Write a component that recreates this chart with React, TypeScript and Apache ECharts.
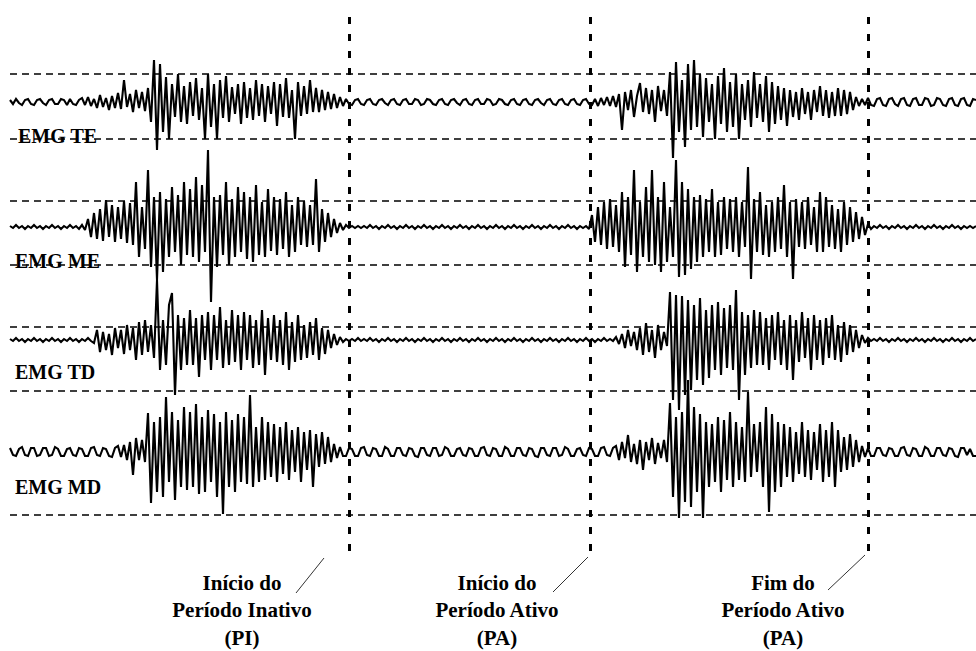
import React, { useEffect, useRef } from "react";
import * as echarts from "echarts";

// Channels
const channelNames = ["EMG TE", "EMG ME", "EMG TD", "EMG MD"];
// Resting level of each trace (chart units, y grows downward)
const channelBaselines = [102, 227, 340, 452];
// Dashed reference levels
const guideLevels = [74, 139, 201, 265, 327, 391, 515];
// Event markers (sample index)
const eventSamples = [113, 193.3, 286];
const eventLabels = [
  ["Início do", "Período Inativo", "(PI)"],
  ["Início do", "Período Ativo", "(PA)"],
  ["Fim do", "Período Ativo", "(PA)"],
];

// EMG amplitudes (one sample every 3 px), positive = upward deflection
const emgTE = [
  2, -2, 3, -1, -3, 2, 3, -2, -3, 2,
  3, -1, -3, 2, 3, -2, -2, 3, 2, -3,
  3, -2, -3, 2, 4, -3, 5, -4, 3, -6,
  7, -5, 4, -8, 6, -6, 9, -7, 22, -5,
  8, -10, 12, -6, 10, -9, 14, -20, 42, -48,
  38, -30, 25, -37, 18, -15, 28, -20, 16, -22,
  20, -14, 24, -18, 14, -37, 28, -25, 18, -37,
  22, -16, 26, -20, 15, -12, 18, -22, 20, -16,
  14, -18, 22, -14, 18, -20, 16, -12, 20, -24,
  18, -15, 24, -16, 12, -37, 20, -14, 16, -12,
  22, -10, 14, -10, 12, -8, 10, -7, 8, -6,
  5, -4, 3, -2, -3, 2, 3, -2, -3, 2,
  3, -2, -3, 2, 3, -1, -3, 2, 3, -2,
  -3, 2, 3, -2, -2, 3, 2, -3, -2, 3,
  2, -2, -3, 2, 3, -2, -3, 2, 3, -1,
  -3, 2, 3, -2, -3, 2, 3, -2, -2, 3,
  2, -3, -2, 3, 2, -2, -3, 2, 3, -2,
  -3, 2, 3, -2, -3, 2, 3, -1, -3, 2,
  3, -2, -3, 2, 3, -2, -3, 2, 3, -2,
  -3, 2, 3, -2, -3, 3, -4, 4, -3, 5,
  -4, 6, -5, 8, -28, 10, -8, 12, -15, 6,
  19, -10, 14, -12, 12, -20, 16, -9, 12, -14,
  30, -56, 40, -30, 22, -45, 38, -28, 42, -25,
  28, -35, 24, -20, 18, -37, 26, -22, 34, -30,
  20, -25, 28, -37, 18, -18, 22, -25, 30, -16,
  18, -20, 26, -30, 20, -22, 16, -18, 14, -24,
  12, -15, 10, -18, 14, -12, 10, -18, 12, -10,
  16, -14, 12, -16, 10, -14, 14, -14, 12, -12,
  10, -8, 5, -4, 3, -3, 4, -3, -4, 3,
  4, -3, -4, 3, 4, -2, -4, 3, 4, -3,
  -4, 3, 4, -3, -3, 4, 3, -4, -3, 4,
  3, -3, -4, 3, 4, -3, -4, 3, 4, -3,
  -4, 3, 2,
];

const emgME = [
  1, -1, 2, -1, 1, -2, 1, -1, 2, -1,
  1, -2, 1, -1, 2, -1, 1, -2, 1, -1,
  2, -1, 1, -2, 2, -3, 8, -10, 14, -12,
  18, -14, 27, -10, 22, -15, 20, -12, 26, -16,
  24, -18, 45, -30, 20, -22, 57, -40, 30, -53,
  35, -45, 28, -30, 40, -25, 32, -38, 45, -28,
  38, -30, 50, -35, 42, -25, 77, -75, 30, -40,
  32, -28, 45, -38, 28, -30, 40, -25, 35, -32,
  30, -35, 42, -28, 25, -30, 38, -24, 30, -28,
  28, -22, 35, -30, 22, -25, 30, -18, 26, -20,
  22, -18, 48, -25, 18, -15, 14, -10, 8, -6,
  4, -3, 2, -1, 1, -1, 1, -1, 1, -1,
  2, -1, 1, -2, 1, -1, 2, -1, 1, -2,
  1, -1, 2, -1, 1, -2, 1, -1, 2, -1,
  1, -2, 1, -1, 2, -1, 1, -2, 1, -1,
  2, -1, 1, -2, 1, -1, 2, -1, 1, -2,
  1, -1, 2, -1, 1, -2, 1, -1, 2, -1,
  1, -2, 1, -1, 2, -1, 1, -2, 1, -1,
  2, -1, 1, -2, 1, -1, 2, -1, 1, -2,
  1, -1, 1, -2, 12, -15, 20, -18, 25, -22,
  28, -20, 22, -25, 35, -40, 30, -28, 57, -45,
  25, -30, 40, -35, 57, -38, 30, -45, 45, -35,
  20, -30, 67, -50, 45, -48, 38, -42, 30, -35,
  32, -30, 28, -25, 38, -30, 25, -28, 30, -22,
  28, -25, 30, -30, 25, -20, 60, -52, 28, -25,
  35, -28, 22, -30, 25, -25, 30, -22, 42, -30,
  25, -52, 28, -20, 25, -22, 30, -18, 20, -25,
  35, -25, 30, -20, 22, -22, 18, -25, 25, -18,
  20, -15, 15, -12, 10, -8, 3, -2, 1, -1,
  2, -1, 1, -2, 1, -1, 2, -1, 1, -2,
  1, -1, 2, -1, 1, -2, 1, -1, 2, -1,
  1, -2, 1, -1, 2, -1, 1, -2, 1, -1,
  1, -1, 1,
];

const emgTD = [
  1, -1, 2, -1, 1, -2, 1, -1, 2, -1,
  1, -2, 1, -1, 2, -1, 1, -2, 1, -1,
  2, -1, 1, -2, 1, -1, 2, -1, -3, 10,
  -12, 8, -10, 6, -15, 12, -8, 10, -14, 15,
  -10, 12, -20, 18, -15, 20, -12, 15, -18, 60,
  -30, 20, -25, 35, 47, -55, 25, -30, 22, -25,
  30, -25, 22, -37, 25, -20, 28, -30, 25, -20,
  33, -28, 20, -25, 30, -22, 25, -30, 28, -20,
  25, -28, 20, -25, 30, -35, 22, -20, 25, -22,
  20, -25, 28, -30, 18, -22, 25, -20, 15, -18,
  18, -15, 22, -20, 12, -14, 10, -8, 6, -5,
  3, -2, 1, -1, 1, -1, 2, -1, 1, -1,
  2, -1, 1, -2, 1, -1, 2, -1, 1, -2,
  1, -1, 2, -1, 1, -2, 1, -1, 2, -1,
  1, -2, 1, -1, 2, -1, 1, -2, 1, -1,
  2, -1, 1, -2, 1, -1, 2, -1, 1, -2,
  1, -1, 2, -1, 1, -2, 1, -1, 2, -1,
  1, -2, 1, -1, 2, -1, 1, -2, 1, -1,
  2, -1, 1, -2, 1, -1, 2, -1, 1, -2,
  1, -1, 2, -1, 1, -2, 1, -1, 2, -1,
  1, -1, 3, -4, 6, -8, 10, -6, 8, -10,
  12, -15, 17, -12, 10, -18, 15, -10, 8, -6,
  48, -60, 45, -70, 44, -55, 40, -50, 35, -40,
  42, -45, 30, -38, 35, -30, 38, -35, 32, -28,
  35, -30, 50, -60, 28, -35, 25, -28, 30, -25,
  28, -25, 22, -30, 25, -20, 28, -25, 20, -30,
  25, -40, 20, -22, 28, -18, 22, -30, 25, -20,
  20, -25, 22, -18, 25, -20, 15, -22, 18, -15,
  15, -12, 10, -8, 5, -3, 2, -1, 1, -1,
  2, -1, 1, -2, 1, -1, 2, -1, 1, -2,
  1, -1, 2, -1, 1, -2, 1, -1, 2, -1,
  1, -2, 1, -1, 2, -1, 1, -2, 1, -1,
  2, -1, 1,
];

const emgMD = [
  4, -3, -4, 3, 5, -3, -4, 4, 4, -4,
  -3, 4, 4, -4, -3, 5, 3, -4, -4, 3,
  4, -3, -4, 4, 3, -4, -4, 4, 5, -3,
  -4, 4, 3, -4, -5, 4, 6, -5, 7, -8,
  10, -23, 14, -8, 12, -10, 39, -51, 30, -40,
  35, -45, 55, -30, 40, -48, 32, -35, 45, -38,
  40, -35, 48, -42, 35, -40, 42, -30, 38, -45,
  30, -62, 40, -35, 32, -40, 38, -30, 35, -32,
  57, -35, 25, -30, 35, -28, 30, -25, 28, -30,
  25, -22, 30, -28, 22, -20, 25, -30, 20, -18,
  22, -35, 18, -15, 20, -12, 15, -10, 8, -6,
  5, -4, -4, 4, 3, -4, -4, 4, 5, -3,
  -4, 4, 3, -4, -4, 5, 3, -4, -4, 4,
  4, -3, -4, 4, 3, -4, -5, 4, 4, -3,
  -4, 4, 4, -4, -3, 5, 3, -4, -4, 3,
  4, -3, -4, 4, 3, -4, -4, 4, 5, -3,
  -4, 4, 3, -4, -4, 5, 3, -4, -4, 4,
  4, -3, -4, 4, 3, -4, -5, 4, 4, -3,
  -4, 4, 4, -4, -3, 5, 3, -4, -4, 3,
  4, -3, -4, 4, 3, -4, -4, 4, 5, -3,
  -4, 4, 6, -8, 10, -6, 17, -10, 8, -12,
  12, -18, 10, -8, 14, -12, 9, -6, 12, -10,
  49, -45, 35, -66, 40, -50, 72, -55, 45, -40,
  38, -66, 30, -35, 28, -30, 35, -40, 32, -28,
  40, -35, 30, -28, 25, -30, 60, -25, 28, -20,
  30, -35, 45, -60, 38, -40, 30, -35, 28, -25,
  25, -30, 20, -22, 30, -25, 22, -28, 20, -18,
  28, -30, 22, -25, 30, -35, 22, -20, 15, -18,
  18, -15, 12, -10, 6, -5, 4, -4, -4, 4,
  4, -3, -4, 4, 3, -4, -4, 4, 5, -3,
  -4, 4, 3, -4, -4, 5, 3, -4, -4, 4,
  4, -3, -4, 4, 3, -4, -5, 4, 4, -3,
  3, -4, -4,
];

const channelSignals = [emgTE, emgME, emgTD, emgMD];

const W = 976;
const H = 651;
const FONT = '"Liberation Serif", "Times New Roman", serif';

export default function App() {
  const ref = useRef<HTMLDivElement>(null);

  useEffect(() => {
    if (!ref.current) return;
    const chart = echarts.init(ref.current, undefined, { renderer: "svg" });
    const nSamples = emgTE.length - 1;

    const series: any[] = channelSignals.map((sig, c) => ({
      type: "line",
      name: channelNames[c],
      showSymbol: false,
      symbol: "none",
      silent: true,
      z: 3,
      lineStyle: { color: "#000", width: 2.1, join: "miter", miterLimit: 2 },
      data: sig.map((v, i) => [i, channelBaselines[c] - v]),
    }));

    series.push({
      type: "line",
      name: "guides",
      data: [],
      silent: true,
      markLine: {
        silent: true,
        symbol: ["none", "none"],
        label: { show: false },
        lineStyle: { color: "#000", type: [7, 5], width: 1.6 },
        data: guideLevels.map((v) => ({ yAxis: v })),
      },
    });
    series.push({
      type: "line",
      name: "events",
      data: [],
      silent: true,
      z: 4,
      markLine: {
        silent: true,
        symbol: ["none", "none"],
        label: { show: false },
        lineStyle: { color: "#000", type: [7, 10], width: 3 },
        data: eventSamples.map((s) => [
          { coord: [s, 17] },
          { coord: [s, 557] },
        ]),
      },
    });

    const graphics: any[] = [];
    const labelY = [136, 261, 372, 487];
    channelNames.forEach((n, c) => {
      graphics.push({
        type: "text",
        x: c === 0 ? 18 : 15,
        y: labelY[c],
        z: 10,
        style: {
          text: n,
          font: `bold 20px ${FONT}`,
          fill: "#000",
          textAlign: "left",
          textVerticalAlign: "middle",
        },
      });
    });

    const labelCenters = [242, 497, 783];
    const lineYs = [583, 610, 638];
    eventLabels.forEach((lines, k) => {
      lines.forEach((t, j) => {
        graphics.push({
          type: "text",
          x: labelCenters[k],
          y: lineYs[j],
          style: {
            text: t,
            font: `bold 21px ${FONT}`,
            fill: "#000",
            textAlign: "center",
            textVerticalAlign: "middle",
          },
        });
      });
    });
    const leaders = [
      [296, 593, 324, 558],
      [553, 592, 588, 557],
      [828, 590, 865, 555],
    ];
    leaders.forEach(([x1, y1, x2, y2]) => {
      graphics.push({
        type: "line",
        shape: { x1, y1, x2, y2 },
        style: { stroke: "#333", lineWidth: 1 },
      });
    });

    chart.setOption({
      animation: false,
      backgroundColor: "#fff",
      grid: { left: 10, right: 0, top: 0, bottom: 0 },
      xAxis: { type: "value", min: 0, max: nSamples, show: false },
      yAxis: { type: "value", min: 0, max: H, inverse: true, show: false },
      series,
      graphic: graphics,
    });

    return () => chart.dispose();
  }, []);

  return (
    <div
      ref={ref}
      style={{ position: "absolute", left: 0, top: 0, width: W, height: H }}
    />
  );
}
